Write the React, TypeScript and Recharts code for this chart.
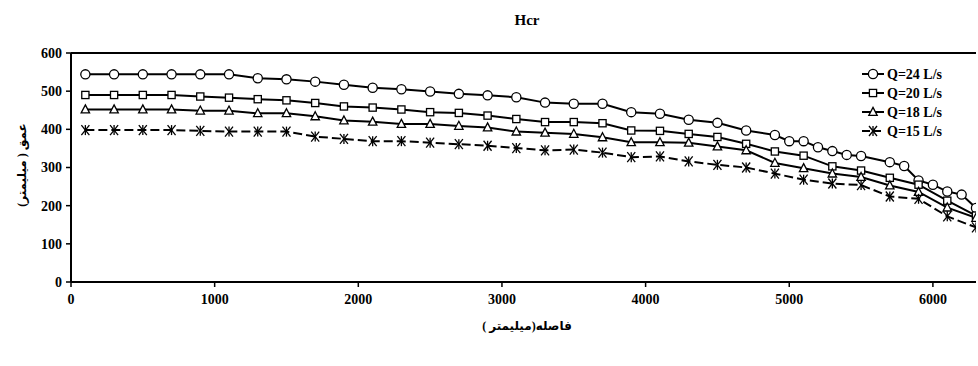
import React from 'react';
import { LineChart, Line, XAxis, YAxis, ReferenceLine } from 'recharts';

const xQ24 = [100, 300, 500, 700, 900, 1100, 1300, 1500, 1700, 1900, 2100, 2300, 2500, 2700, 2900, 3100, 3300, 3500, 3700, 3900, 4100, 4300, 4500, 4700, 4900, 5000, 5100, 5200, 5300, 5400, 5500, 5700, 5800, 5900, 6000, 6100, 6200, 6300];
const yQ24 = [544, 544, 544, 544, 544, 544, 534, 531, 525, 517, 509, 505, 499, 493, 489, 484, 470, 467, 467, 445, 441, 425, 417, 397, 385, 369, 369, 353, 343, 333, 330, 314, 304, 266, 255, 237, 229, 194];

const xOdd = [100, 300, 500, 700, 900, 1100, 1300, 1500, 1700, 1900, 2100, 2300, 2500, 2700, 2900, 3100, 3300, 3500, 3700, 3900, 4100, 4300, 4500, 4700, 4900, 5100, 5300, 5500, 5700, 5900, 6100, 6300];
const yQ20 = [490, 490, 490, 490, 486, 483, 479, 476, 469, 460, 457, 452, 445, 443, 436, 427, 419, 419, 416, 397, 396, 388, 380, 362, 342, 331, 303, 292, 273, 255, 213, 174];
const yQ18 = [452, 452, 452, 452, 449, 449, 442, 442, 434, 423, 420, 414, 414, 409, 405, 394, 391, 388, 379, 366, 366, 365, 355, 345, 312, 298, 284, 275, 253, 236, 195, 168];
const yQ15 = [398, 398, 398, 398, 396, 394, 394, 394, 381, 375, 369, 369, 365, 361, 357, 351, 345, 347, 339, 327, 329, 316, 307, 300, 284, 268, 258, 254, 224, 218, 172, 143];

const xTicks = [0, 1000, 2000, 3000, 4000, 5000, 6000];
const yTicks = [0, 100, 200, 300, 400, 500, 600];
const seriesNames = ['Q=24 L/s', 'Q=20 L/s', 'Q=18 L/s', 'Q=15 L/s'];
const titleText = 'Hcr';
const xTitle = 'فاصله(میلیمتر )';
const yTitle = 'عمق ( میلیمتر)';

const toRows = (xs: number[], ys: number[]) => xs.map((x, i) => ({ x, y: ys[i] }));
const d24 = toRows(xQ24, yQ24);
const d20 = toRows(xOdd, yQ20);
const d18 = toRows(xOdd, yQ18);
const d15 = toRows(xOdd, yQ15);

const FONT = '"Liberation Serif", "Times New Roman", "DejaVu Sans", serif';

const CircleM = ({ cx, cy }: any) => (
  <circle cx={cx} cy={cy} r={4.6} fill="#fff" stroke="#000" strokeWidth={1.3} strokeDasharray="none" />
);
const SquareM = ({ cx, cy }: any) => (
  <rect x={cx - 3.6} y={cy - 3.6} width={7.2} height={7.2} fill="#fff" stroke="#000" strokeWidth={1.3} strokeDasharray="none" />
);
const TriM = ({ cx, cy }: any) => (
  <polygon points={`${cx},${cy - 4.6} ${cx + 4.2},${cy + 3.4} ${cx - 4.2},${cy + 3.4}`} fill="#fff" stroke="#000" strokeWidth={1.3} strokeDasharray="none" />
);
const StarM = ({ cx, cy }: any) => (
  <g stroke="#000" strokeWidth={1.3} strokeDasharray="none" fill="none">
    <line x1={cx - 4} y1={cy - 5} x2={cx + 4} y2={cy + 5} />
    <line x1={cx + 4} y1={cy - 5} x2={cx - 4} y2={cy + 5} />
    <line x1={cx} y1={cy - 5} x2={cx} y2={cy + 5} />
  </g>
);
const markers = [CircleM, SquareM, TriM, StarM];

const mk = (C: any) => (p: any) => <C key={`m${p.index}`} cx={p.cx} cy={p.cy} />;

const LegendBox = () => (
  <svg width={118} height={80} style={{ display: 'block', overflow: 'visible' }}>
    {seriesNames.map((n, i) => {
      const y = 8 + i * 19;
      const C = markers[i];
      return (
        <g key={n}>
          <line x1={2} y1={y} x2={24} y2={y} stroke="#000" strokeWidth={2} strokeDasharray={i === 3 ? '8 3' : undefined} />
          <C cx={13} cy={y} />
          <text x={27} y={y + 5} fontFamily={FONT} fontWeight="bold" fontSize={14} fill="#000">{n}</text>
        </g>
      );
    })}
  </svg>
);

export default function App() {
  return (
    <div style={{ position: 'absolute', left: 0, top: 0, width: 978, height: 366, background: '#fff', fontFamily: FONT }}>
      <LineChart width={978} height={366} margin={{ top: 53, right: 2, bottom: 0, left: 0 }}>
        <XAxis
          type="number"
          dataKey="x"
          domain={[0, 6300]}
          ticks={xTicks}
          allowDataOverflow
          height={84}
          axisLine={{ stroke: '#000', strokeWidth: 2 }}
          tickLine={{ stroke: '#000', strokeWidth: 1.5 }}
          tickSize={5}
          tickMargin={7}
          tick={{ fill: '#000', fontFamily: FONT, fontWeight: 'bold', fontSize: 14 }}
        />
        <YAxis
          type="number"
          dataKey="y"
          domain={[0, 600]}
          ticks={yTicks}
          width={71}
          axisLine={{ stroke: '#000', strokeWidth: 2 }}
          tickLine={{ stroke: '#000', strokeWidth: 1.5 }}
          tickSize={5}
          tickMargin={4}
          tick={{ fill: '#000', fontFamily: FONT, fontWeight: 'bold', fontSize: 14 }}
        />
        <ReferenceLine y={600} stroke="#000" strokeWidth={2} />
        <Line data={d24} dataKey="y" name={seriesNames[0]} type="linear" stroke="#000" strokeWidth={2} dot={mk(CircleM)} activeDot={false} isAnimationActive={false} />
        <Line data={d20} dataKey="y" name={seriesNames[1]} type="linear" stroke="#000" strokeWidth={2} dot={mk(SquareM)} activeDot={false} isAnimationActive={false} />
        <Line data={d18} dataKey="y" name={seriesNames[2]} type="linear" stroke="#000" strokeWidth={2} dot={mk(TriM)} activeDot={false} isAnimationActive={false} />
        <Line data={d15} dataKey="y" name={seriesNames[3]} type="linear" stroke="#000" strokeWidth={2} strokeDasharray="9 4" dot={mk(StarM)} activeDot={false} isAnimationActive={false} />
      </LineChart>
      <div style={{ position: 'absolute', left: 860, top: 66 }}>
        <LegendBox />
      </div>
      <div style={{ position: 'absolute', left: 527, top: 11, transform: 'translateX(-50%)', fontWeight: 'bold', fontSize: 15, lineHeight: '18px', whiteSpace: 'nowrap' }}>
        {titleText}
      </div>
      <div dir="rtl" style={{ position: 'absolute', left: 527, top: 318, transform: 'translateX(-50%)', whiteSpace: 'nowrap', fontWeight: 'bold', fontSize: 12, lineHeight: '16px' }}>
        {xTitle}
      </div>
      <div dir="rtl" style={{ position: 'absolute', left: 22, top: 165, transform: 'translate(-50%, -50%) rotate(-90deg)', whiteSpace: 'nowrap', fontWeight: 'bold', fontSize: 12, lineHeight: '16px' }}>
        {yTitle}
      </div>
    </div>
  );
}
